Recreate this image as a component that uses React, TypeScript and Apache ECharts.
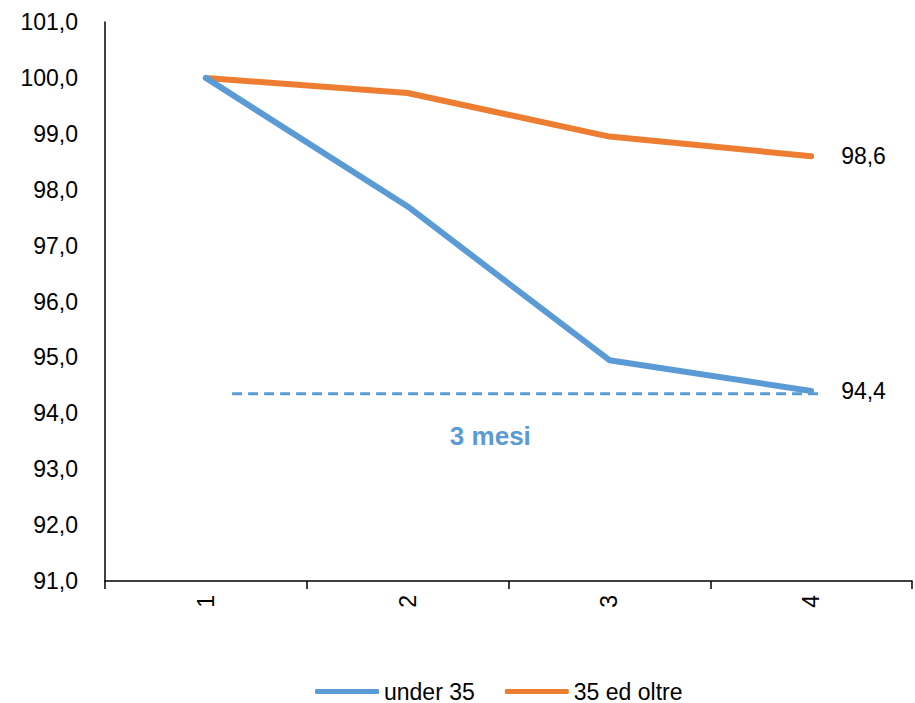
import React, { useEffect, useRef } from "react";
import * as echarts from "echarts";

const categories = ["1", "2", "3", "4"];
const under35 = [100.0, 97.7, 94.95, 94.4];
const over35 = [100.0, 99.73, 98.95, 98.6];
const refLineY = 94.35;
const refLineX = [0.13, 3.04];
const refLabel = "3 mesi";
const refLabelPos = [1.41, 93.6];
const yTicks = { min: 91, max: 101, interval: 1 };

const FONT = "'Liberation Sans Narrow', 'Arial Narrow', 'Liberation Sans', Arial, sans-serif";
const BLUE = "#5B9BD5";
const ORANGE = "#ED7D31";
const FS = 23;

const fmt = (v: number) => v.toFixed(1).replace(".", ",");

export default function App() {
  const ref = useRef<HTMLDivElement>(null);
  useEffect(() => {
    if (!ref.current) return;
    const chart = echarts.init(ref.current, null, { renderer: "svg" });
    const endLabel = {
      show: true,
      distance: 30,
      formatter: (p: any) => fmt(p.value),
      color: "#000",
      fontSize: FS,
      fontFamily: FONT,
    };
    chart.setOption({
      animation: false,
      textStyle: { fontFamily: FONT },
      grid: { left: 105, right: 3, top: 22, bottom: 122, containLabel: false },
      legend: {
        data: ["under 35", "35 ed oltre"],
        top: 675,
        left: 310,
        itemWidth: 64,
        itemHeight: 5,
        itemGap: 30,
        icon: "roundRect",
        textStyle: { color: "#000", fontSize: FS, fontFamily: FONT },
      },
      xAxis: [
        {
          type: "category",
          data: categories,
          boundaryGap: true,
          axisLine: { lineStyle: { color: "#000", width: 1.5 } },
          axisTick: { show: true, length: 8, lineStyle: { color: "#000", width: 1.5 } },
          axisLabel: { rotate: 90, margin: 14, color: "#000", fontSize: FS, fontFamily: FONT },
        },
        {
          type: "value",
          min: -0.5,
          max: 3.5,
          show: false,
        },
      ],
      yAxis: {
        type: "value",
        min: yTicks.min,
        max: yTicks.max,
        interval: yTicks.interval,
        axisLine: { show: true, onZero: false, lineStyle: { color: "#000", width: 1.5 } },
        axisTick: { show: false },
        splitLine: { show: false },
        axisLabel: {
          margin: 27,
          color: "#000",
          fontSize: FS,
          fontFamily: FONT,
          formatter: (v: number) => fmt(v),
        },
      },
      series: [
        {
          name: "under 35",
          type: "line",
          data: under35,
          symbol: "none",
          lineStyle: { color: BLUE, width: 6, cap: "round", join: "round" },
          itemStyle: { color: BLUE },
          endLabel,
          z: 3,
        },
        {
          name: "35 ed oltre",
          type: "line",
          data: over35,
          symbol: "none",
          lineStyle: { color: ORANGE, width: 6, cap: "round", join: "round" },
          itemStyle: { color: ORANGE },
          endLabel,
          z: 2,
        },
        {
          name: "ref",
          type: "line",
          xAxisIndex: 1,
          data: refLineX.map((x) => [x, refLineY]),
          symbol: "none",
          lineStyle: { color: BLUE, width: 3, type: [10, 6] },
          z: 1,
        },
        {
          name: "refLabel",
          type: "scatter",
          xAxisIndex: 1,
          data: [refLabelPos],
          symbolSize: 0,
          itemStyle: { opacity: 1 },
          label: {
            show: true,
            position: "inside",
            formatter: refLabel,
            color: BLUE,
            fontSize: 26,
            fontWeight: "bold",
            fontFamily: FONT,
          },
        },
      ],
    });
    return () => chart.dispose();
  }, []);
  return (
    <div
      ref={ref}
      style={{ position: "absolute", left: 0, top: 0, width: 915, height: 703, background: "#fff" }}
    />
  );
}
